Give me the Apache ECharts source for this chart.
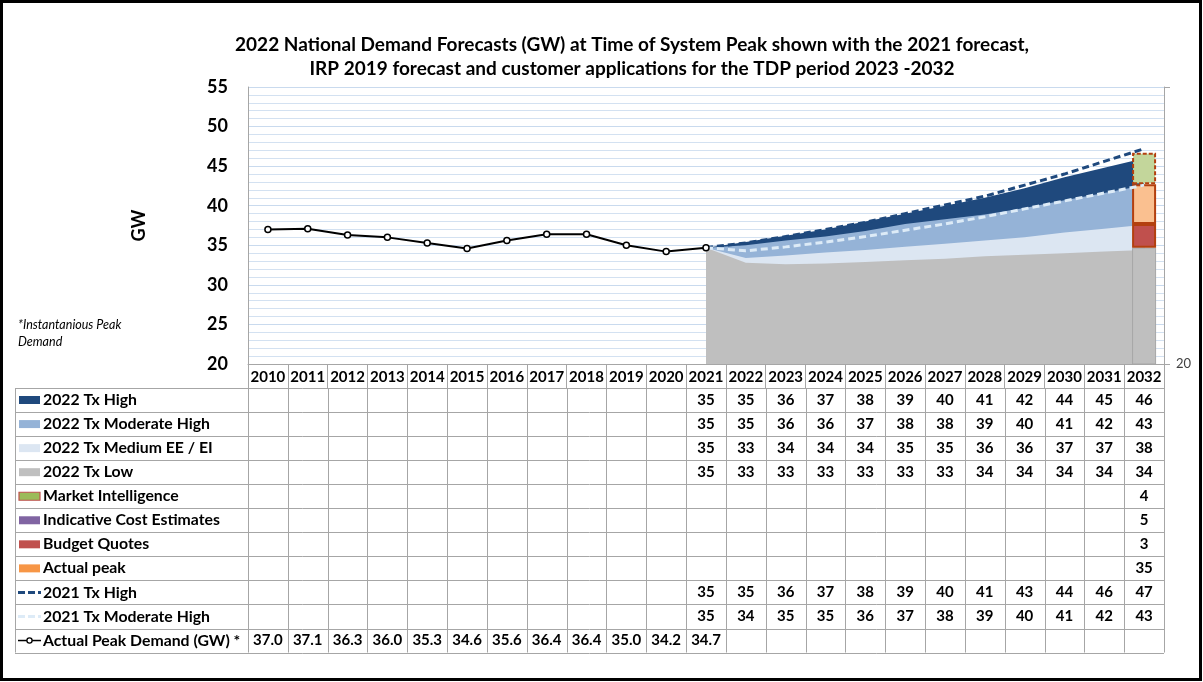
<!DOCTYPE html>
<html>
<head>
<meta charset="UTF-8">
<title>2022 National Demand Forecasts</title>
<script src="https://cdn.jsdelivr.net/npm/echarts@6/dist/echarts.min.js"></script>
</head>
<body style="margin:0">
<div id="container" style="width:1203px;height:682px;background:#fff"></div>
<script>
  var years = ['2010', '2011', '2012', '2013', '2014', '2015', '2016', '2017', '2018', '2019', '2020',
    '2021', '2022', '2023', '2024', '2025', '2026', '2027', '2028', '2029', '2030', '2031', '2032'];

  // actual peak demand 2010-2021
  var peakDemand = [37.0, 37.1, 36.3, 36.0, 35.3, 34.6, 35.6, 36.4, 36.4, 35.0, 34.2, 34.7];

  // forecasts 2021-2032
  var high2022 = [34.7, 35.4, 36.2, 37.0, 38.0, 39.0, 40.0, 41.0, 42.2, 43.6, 44.8, 46.0];
  var modHigh2022 = [34.7, 35.0, 35.6, 36.1, 36.8, 37.7, 38.3, 38.9, 39.7, 40.7, 41.6, 42.6];
  var medium2022 = [34.7, 33.4, 33.7, 34.1, 34.4, 34.8, 35.2, 35.6, 36.0, 36.6, 37.1, 37.6];
  var low2022 = [34.7, 32.8, 32.6, 32.7, 32.9, 33.1, 33.3, 33.6, 33.8, 34.0, 34.2, 34.4];
  var high2021 = [34.7, 35.3, 36.1, 37.0, 37.9, 39.0, 40.1, 41.2, 42.6, 44.0, 45.6, 47.2];
  var modHigh2021 = [34.7, 34.3, 34.8, 35.4, 36.1, 36.9, 37.7, 38.6, 39.6, 40.6, 41.6, 42.6];

  // customer applications, 2032 only
  var actualPeak2032 = 34.7;
  var budgetQuotes = 3;
  var indicativeCost = 5;
  var marketIntel = 4;

  var FONT = 'Lato';
  var GRID_COLOR = '#A6A6A6';

  function lead(arr) {
    return new Array(years.length - arr.length).fill(null).concat(arr);
  }
  function trail(arr) {
    return arr.concat(new Array(years.length - arr.length).fill(null));
  }
  function lastOnly(v) {
    var a = new Array(years.length).fill(null);
    a[a.length - 1] = v;
    return a;
  }

  function areaSeries(name, data, color, z) {
    return {
      name: name, type: 'line', data: lead(data), z: z,
      symbol: 'none', silent: true,
      lineStyle: {width: 0},
      itemStyle: {color: color},
      areaStyle: {color: color, opacity: 1, origin: 'start'}
    };
  }
  function barSeries(name, data, fill, border, dashed) {
    return {
      name: name, type: 'bar', stack: 'apps', data: lastOnly(data), z: 5,
      barWidth: 24,
      itemStyle: {color: fill, borderColor: border, borderWidth: border === '#A6A6A6' ? 1 : 2,
        borderType: dashed ? [4, 2] : 'solid'}
    };
  }
  function dashSeries(name, data, color) {
    return {
      name: name, type: 'line', data: lead(data), z: 6, symbol: 'none',
      itemStyle: {color: color},
      lineStyle: {color: color, width: 3, type: [7, 4]}
    };
  }

  var dom = document.getElementById('container');
  var myChart = echarts.init(dom, null, {renderer: 'canvas'});

  var option = {
    animation: false,
    title: {
      text: '2022 National Demand Forecasts (GW) at Time of System Peak shown with the 2021 forecast,\nIRP 2019 forecast and customer applications for the TDP period 2023 -2032',
      left: 627, top: 28, textAlign: 'center',
      textStyle: {fontFamily: FONT, fontSize: 19, fontWeight: 'bold', color: '#000', lineHeight: 24}
    },
    grid: {left: 248, right: 39, top: 87, bottom: 318},
    xAxis: {
      type: 'category', data: years, boundaryGap: true,
      axisLine: {lineStyle: {color: GRID_COLOR}},
      axisTick: {show: true, interval: 0, length: 24, lineStyle: {color: GRID_COLOR}},
      axisLabel: {interval: 0, margin: 6, fontFamily: FONT, fontSize: 15, fontWeight: 'bold', color: '#000'}
    },
    yAxis: [{
      type: 'value', min: 20, max: 55, interval: 5,
      name: 'GW', nameLocation: 'middle', nameGap: 100, nameRotate: 90,
      nameTextStyle: {fontFamily: FONT, fontSize: 18, fontWeight: 'bold', color: '#000'},
      axisLine: {show: true, lineStyle: {color: GRID_COLOR}},
      axisTick: {show: false},
      axisLabel: {margin: 20, fontFamily: FONT, fontSize: 18, fontWeight: 'bold', color: '#000'},
      splitLine: {show: true, lineStyle: {color: '#C9DAEE'}},
      minorTick: {show: false, splitNumber: 5},
      minorSplitLine: {show: true, lineStyle: {color: '#D3E1F1'}}
    }, {
      type: 'value', min: 20, max: 55, interval: 35, position: 'right',
      axisLine: {show: true, lineStyle: {color: GRID_COLOR}},
      axisTick: {show: true, length: 6, lineStyle: {color: GRID_COLOR}},
      axisLabel: {margin: 12, fontFamily: FONT, fontSize: 13, color: '#404040',
        formatter: function (v) { return v === 20 ? '20' : ''; }},
      splitLine: {show: false}
    }],
    series: [
      areaSeries('2022 Tx High', high2022, '#1F497D', 1),
      areaSeries('2022 Tx Moderate High', modHigh2022, '#95B3D7', 2),
      areaSeries('2022 Tx Medium EE / EI', medium2022, '#DCE6F2', 3),
      areaSeries('2022 Tx Low', low2022, '#BFBFBF', 4),
      barSeries('Actual peak', actualPeak2032, '#BFBFBF', '#A6A6A6', false),
      barSeries('Budget Quotes', budgetQuotes, '#C0504D', '#B3400F', false),
      barSeries('Indicative Cost Estimates', indicativeCost, '#FAC090', '#B3400F', false),
      barSeries('Market Intelligence', marketIntel, '#C3D69B', '#B3400F', true),
      dashSeries('2021 Tx High', high2021, '#1F497D'),
      dashSeries('2021 Tx Moderate High', modHigh2021, '#DDEBF7'),
      {
        name: 'Actual Peak Demand (GW) *', type: 'line', data: trail(peakDemand), z: 7,
        symbol: 'circle', symbolSize: 6,
        itemStyle: {color: '#fff', borderColor: '#000', borderWidth: 1.5},
        lineStyle: {color: '#000', width: 2}
      }
    ]
  };
  myChart.setOption(option);

  // data table below the axis, aligned on the category bands
  var rows = [
    {name: '2022 Tx High', data: lead(high2022), key: 'box', color: '#1F497D'},
    {name: '2022 Tx Moderate High', data: lead(modHigh2022), key: 'box', color: '#95B3D7'},
    {name: '2022 Tx Medium EE / EI', data: lead(medium2022), key: 'box', color: '#DCE6F2'},
    {name: '2022 Tx Low', data: lead(low2022), key: 'box', color: '#BFBFBF'},
    {name: 'Market Intelligence', data: lastOnly(marketIntel), key: 'box', color: '#9BBB59', stroke: '#C0504D'},
    {name: 'Indicative Cost Estimates', data: lastOnly(indicativeCost), key: 'box', color: '#8064A2'},
    {name: 'Budget Quotes', data: lastOnly(budgetQuotes), key: 'box', color: '#C0504D'},
    {name: 'Actual peak', data: lastOnly(actualPeak2032), key: 'box', color: '#F79646'},
    {name: '2021 Tx High', data: lead(high2021), key: 'dash', color: '#1F497D'},
    {name: '2021 Tx Moderate High', data: lead(modHigh2021), key: 'dash', color: '#DDEBF7'},
    {name: 'Actual Peak Demand (GW) *', data: trail(peakDemand), key: 'marker', color: '#000', decimals: 1}
  ];

  var c0 = myChart.convertToPixel({xAxisIndex: 0}, years[0]);
  var c1 = myChart.convertToPixel({xAxisIndex: 0}, years[1]);
  var band = c1 - c0;
  var tblLeft = 15;
  var colLeft = c0 - band / 2;
  var colRight = colLeft + band * years.length;
  var axisY = myChart.convertToPixel({yAxisIndex: 0}, 20);
  var rowTop = axisY + 24;
  var rowH = 24.05;
  var tblBottom = rowTop + rowH * rows.length;
  var textFont = {fontFamily: FONT, fontSize: 15, fontWeight: 'bold', fill: '#000'};
  var nameFont = {fontFamily: FONT, fontSize: 15.8, fontWeight: 'bold', fill: '#000'};

  var g = [];
  var lineStyle = {stroke: GRID_COLOR, lineWidth: 1};
  for (var r = 0; r <= rows.length; r++) {
    var y = Math.round(rowTop + r * rowH) + 0.5;
    g.push({type: 'line', silent: true, shape: {x1: tblLeft, y1: y, x2: colRight, y2: y}, style: lineStyle});
  }
  g.push({type: 'line', silent: true, shape: {x1: tblLeft + 0.5, y1: rowTop, x2: tblLeft + 0.5, y2: tblBottom}, style: lineStyle});
  for (var k = 0; k <= years.length; k++) {
    var x = Math.round(colLeft + k * band) + 0.5;
    g.push({type: 'line', silent: true, shape: {x1: x, y1: rowTop, x2: x, y2: tblBottom}, style: lineStyle});
  }

  rows.forEach(function (row, i) {
    var mid = rowTop + i * rowH + rowH / 2;
    if (row.key === 'box') {
      g.push({type: 'rect', silent: true, shape: {x: 19, y: mid - 4, width: 21, height: 8},
        style: {fill: row.color, stroke: row.stroke || null, lineWidth: row.stroke ? 1.2 : 0}});
    } else if (row.key === 'dash') {
      g.push({type: 'line', silent: true, shape: {x1: 18, y1: mid, x2: 41, y2: mid},
        style: {stroke: row.color, lineWidth: 3, lineDash: [7, 3]}});
    } else {
      g.push({type: 'line', silent: true, shape: {x1: 18, y1: mid, x2: 41, y2: mid},
        style: {stroke: '#000', lineWidth: 1.5}});
      g.push({type: 'circle', silent: true, shape: {cx: 29.5, cy: mid, r: 2.6},
        style: {fill: '#fff', stroke: '#000', lineWidth: 1.3}});
    }
    g.push({type: 'text', silent: true, x: 43, y: mid,
      style: Object.assign({text: row.name, verticalAlign: 'middle'}, nameFont)});
    row.data.forEach(function (v, j) {
      if (v == null) return;
      var cx = myChart.convertToPixel({xAxisIndex: 0}, years[j]);
      var txt = row.decimals ? v.toFixed(row.decimals) : String(Math.round(v));
      g.push({type: 'text', silent: true, x: cx, y: mid,
        style: Object.assign({text: txt, align: 'center', verticalAlign: 'middle'}, textFont)});
    });
  });

  g.push({type: 'text', silent: true, x: 18, y: 316,
    style: {text: '*Instantanious Peak\nDemand', fontFamily: FONT, fontSize: 12.5, fontStyle: 'italic',
      fill: '#000', lineHeight: 17}});
  g.push({type: 'rect', silent: true, shape: {x: 1.5, y: 1.5, width: 1199, height: 678},
    style: {fill: null, stroke: '#000', lineWidth: 3}});

  myChart.setOption({graphic: {elements: g}});
  window.addEventListener('resize', myChart.resize);
</script>
</body>
</html>
